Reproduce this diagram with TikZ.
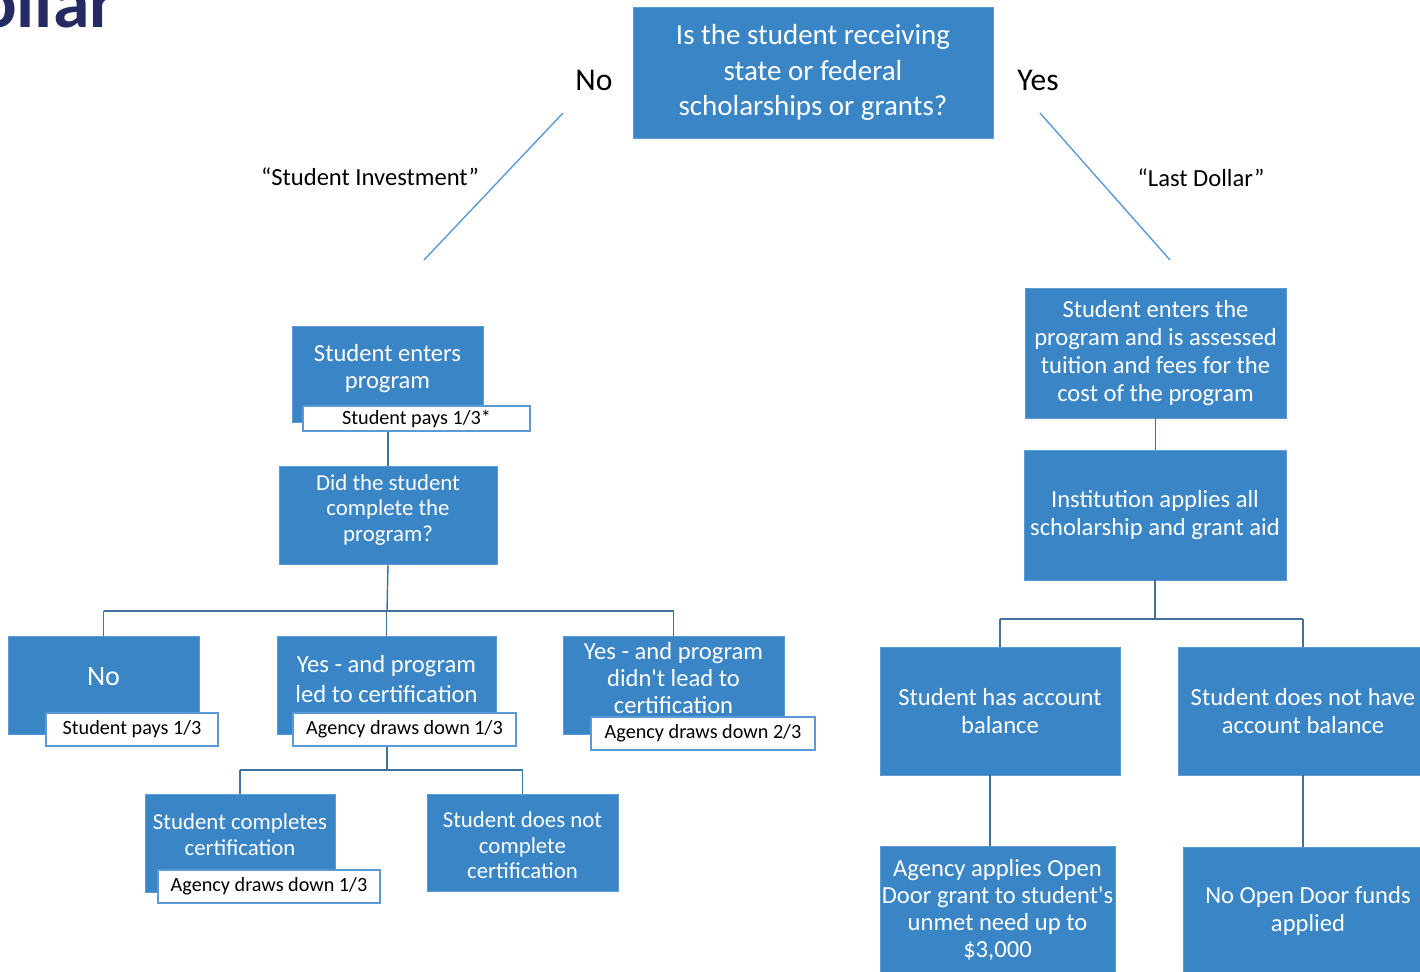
\documentclass[tikz,border=0pt]{standalone}
\usepackage{fontspec}
\setmainfont{Carlito}[Ligatures=TeXOff]
\usepackage{tikz}
\usetikzlibrary{calc}

\definecolor{boxblue}{HTML}{3A85C6}
\definecolor{boxedge}{HTML}{5B9BD5}
\definecolor{treeline}{HTML}{41719C}
\definecolor{titlenavy}{HTML}{252A62}

\begin{document}
\begin{tikzpicture}[x=0.02cm,y=-0.02cm,
  bluebox/.style={draw=boxedge,line width=0.5pt,fill=boxblue,text=white,align=center,inner sep=1pt,
    font=\fontsize{14}{15.5}\selectfont},
  boxtext/.style={text=white,align=center,inner sep=1pt,font=\fontsize{14}{15.5}\selectfont},
  paybox/.style={draw=boxedge,line width=0.8pt,fill=white,text=black,inner sep=0pt,
    font=\fontsize{11.5}{13}\selectfont},
  tree/.style={draw=treeline,line width=0.8pt},
  split/.style={draw=boxedge,line width=0.8pt},
  answer/.style={font=\fontsize{18}{20}\selectfont},
  pathname/.style={font=\fontsize{14}{16}\selectfont}]
\useasboundingbox (0,0) rectangle (1420,971);
\clip (0,0) rectangle (1420,971);

% Slide title (cut off)
\node[anchor=base east,inner sep=0pt,text=titlenavy,font=\fontsize{42}{42}\selectfont\bfseries] (title) at (116,27) {Dollar};

% Question
\node[bluebox,minimum width=7.2cm,minimum height=2.62cm,font=\fontsize{16.5}{20}\selectfont] (q) at (813,72.5)
  {Is the student receiving\\state or federal\\scholarships or grants?};
\node[answer] (no) at (594,80) {No};
\node[answer] (yes) at (1038,80) {Yes};

% Split lines
\coordinate (noTop) at (563,113);
\coordinate (noEnd) at (424,260);
\coordinate (yesTop) at (1040,113);
\coordinate (yesEnd) at (1170,260);
\draw[split] (noTop) -- (noEnd);
\draw[split] (yesTop) -- (yesEnd);
\node[pathname] (invest) at (370,177) {“Student Investment”};
\node[pathname] (last) at (1201,178) {“Last Dollar”};

% Student investment side (text sits above the pay labels)
\node[bluebox,minimum width=3.82cm,minimum height=1.92cm] (A) at (387.5,374) {};
\node[boxtext] (At) at (387.5,368.5) {Student enters\\program};
\node[paybox,minimum width=4.54cm,minimum height=0.5cm] (Al) at (416.5,418.5) {Student pays 1/3*};
\node[bluebox,minimum width=4.36cm,minimum height=1.96cm] (B) at (388,515) {};
\node[boxtext,font=\fontsize{13}{14.5}\selectfont] (Bt) at (388,510) {Did the student\\complete the\\program?};

\node[bluebox,minimum width=3.82cm,minimum height=1.96cm] (C) at (103.5,685) {};
\node[boxtext,font=\fontsize{16}{18}\selectfont] (Ct) at (103.5,677) {No};
\node[paybox,minimum width=3.44cm,minimum height=0.66cm] (Cl) at (132,729.5) {Student pays 1/3};
\node[bluebox,minimum width=4.38cm,minimum height=1.96cm] (D) at (386.5,685) {};
\node[boxtext,font=\fontsize{14}{17}\selectfont] (Dt) at (386.5,679) {Yes - and program\\led to certification};
\node[paybox,minimum width=4.46cm,minimum height=0.66cm] (Dl) at (404.5,729.5) {Agency draws down 1/3};
\node[bluebox,minimum width=4.42cm,minimum height=1.96cm] (E) at (673.5,685) {};
\node[boxtext] (Et) at (673.5,678) {Yes - and program\\didn't lead to\\certification};
\node[paybox,minimum width=4.48cm,minimum height=0.66cm] (El) at (703,733.5) {Agency draws down 2/3};

\node[bluebox,minimum width=3.8cm,minimum height=1.96cm] (F) at (240,843) {};
\node[boxtext,font=\fontsize{13}{14.5}\selectfont] (Ft) at (240,834.5) {Student completes\\certification};
\node[paybox,minimum width=4.44cm,minimum height=0.66cm] (Fl) at (269,886.5) {Agency draws down 1/3};
\node[bluebox,minimum width=3.82cm,minimum height=1.94cm] (G) at (522.5,842.5) {};
\node[boxtext,font=\fontsize{13}{14.5}\selectfont] (Gt) at (522.5,845.5) {Student does not\\complete\\certification};

% Last dollar side
\node[bluebox,minimum width=5.22cm,minimum height=2.6cm,font=\fontsize{14}{16}\selectfont] (H) at (1155.5,353)
  {Student enters the\\program and is assessed\\tuition and fees for the\\cost of the program};
\node[bluebox,minimum width=5.24cm,minimum height=2.6cm] (I) at (1155,515)
  {Institution applies all\\scholarship and grant aid};
\node[bluebox,minimum width=4.8cm,minimum height=2.56cm] (J) at (1000,711) {Student has account\\balance};
\node[bluebox,minimum width=5cm,minimum height=2.56cm] (K) at (1303,711) {Student does not have\\account balance};
\node[bluebox,minimum width=4.7cm,minimum height=2.56cm] (L) at (997.5,910)
  {Agency applies Open\\Door grant to student's\\unmet need up to\\\$3,000};
\node[bluebox,minimum width=5cm,minimum height=2.56cm] (M) at (1308,911) {No Open Door funds\\applied};

% Connectors
\draw[tree] (Al.south -| B.north) -- (B.north);

\coordinate (busB) at (387,611);
\draw[tree] (B.south) -- (busB);
\draw[tree] (busB -| C.north) -- (busB -| E.north);
\foreach \n in {C,D,E} {
  \draw[tree] (busB -| \n.north) -- (\n.north);
}

\coordinate (busD) at (387,770);
\draw[tree] (busD |- Dl.south) -- (busD);
\draw[tree] (busD -| F.north) -- (busD -| G.north);
\foreach \n in {F,G} {
  \draw[tree] (busD -| \n.north) -- (\n.north);
}

\draw[tree] (H.south) -- (H.south |- I.north);
\coordinate (busI) at (1155,619);
\draw[tree] (I.south) -- (busI);
\draw[tree] (busI -| J.north) -- (busI -| K.north);
\foreach \n in {J,K} {
  \draw[tree] (busI -| \n.north) -- (\n.north);
}
\draw[tree] ([xshift=-0.2cm]J.south) -- ([xshift=-0.2cm]J.south |- L.north);
\draw[tree] (K.south) -- (K.south |- M.north);

\end{tikzpicture}
\end{document}
